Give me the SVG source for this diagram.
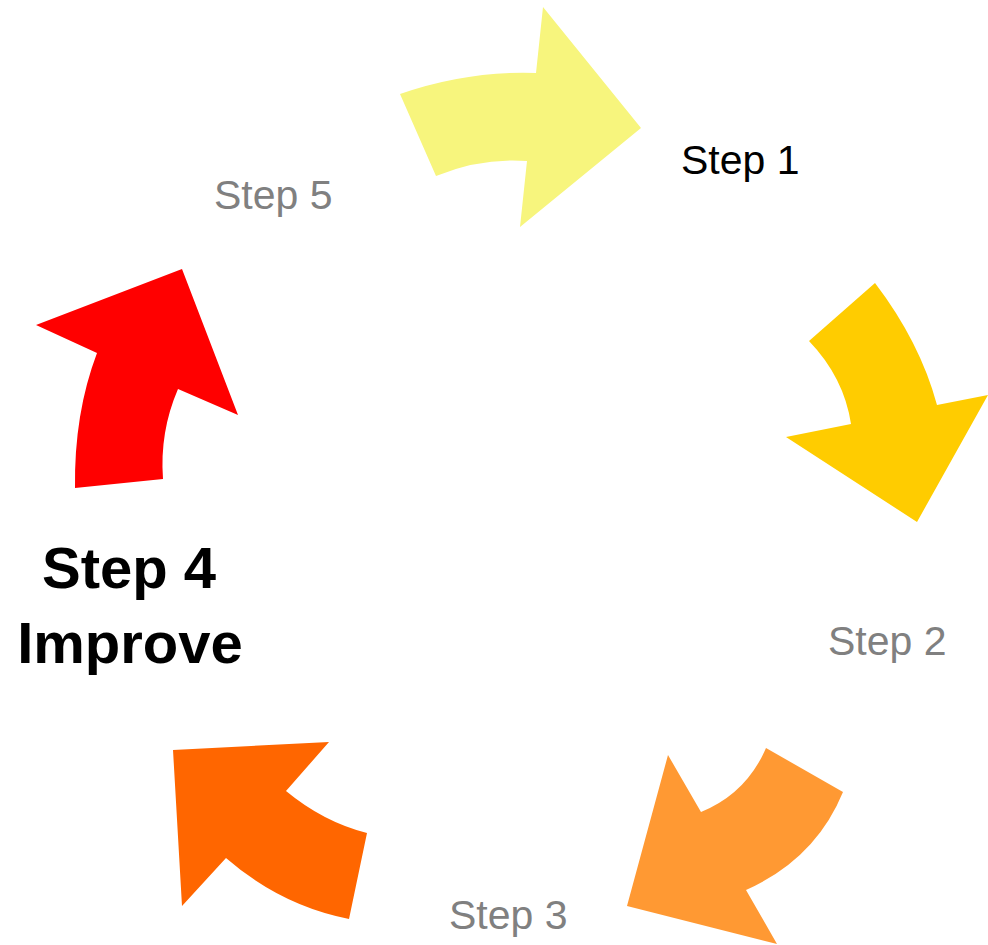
<svg xmlns="http://www.w3.org/2000/svg" width="988" height="945" viewBox="0 0 988 945">
<style>
.lbl{font-family:"Liberation Sans",Arial,sans-serif;font-size:41px;fill:#808080}
.cur{fill:#000}
.big{font-family:"Liberation Sans",Arial,sans-serif;font-size:58px;font-weight:bold;fill:#000;text-anchor:middle}
</style>
<rect width="988" height="945" fill="#fff"/>
<g id="connectors">
<path id="arrow1" fill="#F7F57D" d="M400,94 Q468,70.5 536,73 L543,7 L641,128 L520,227 L527,161 Q481,157.5 436,176 Z"/>
<path id="arrow2" fill="#FFCC00" d="M875,283 Q920,342 937,405 L988,395 L917,522 L786,437 L851,424 Q844,377.5 809,341 Z"/>
<path id="arrow3" fill="#FF9933" d="M843,792 Q815.5,859 746,890 L777,944 L627,906 L668,755 L701,812 Q746.5,793.4 766,748 Z"/>
<path id="arrow4" fill="#FF6600" d="M349,919 Q280.5,905.5 226,858 L182,906 L173,750 L329,742 L286,791 Q323.5,822 367,833 Z"/>
<path id="arrow5" fill="#FF0000" d="M75,488 Q74,413.5 97,353 L36,325 L182,269 L238,415 L178,389 Q159.5,432 163,479 Z"/>
</g>
<g id="step1"><text class="lbl cur" x="681" y="174">Step 1</text></g>
<g id="step2"><text class="lbl" x="828" y="655">Step 2</text></g>
<g id="step3"><text class="lbl" x="449" y="929">Step 3</text></g>
<g id="step4"><text class="big" x="129" y="588">Step 4</text><text class="big" x="130" y="663">Improve</text></g>
<g id="step5"><text class="lbl" x="214" y="209">Step 5</text></g>
</svg>
